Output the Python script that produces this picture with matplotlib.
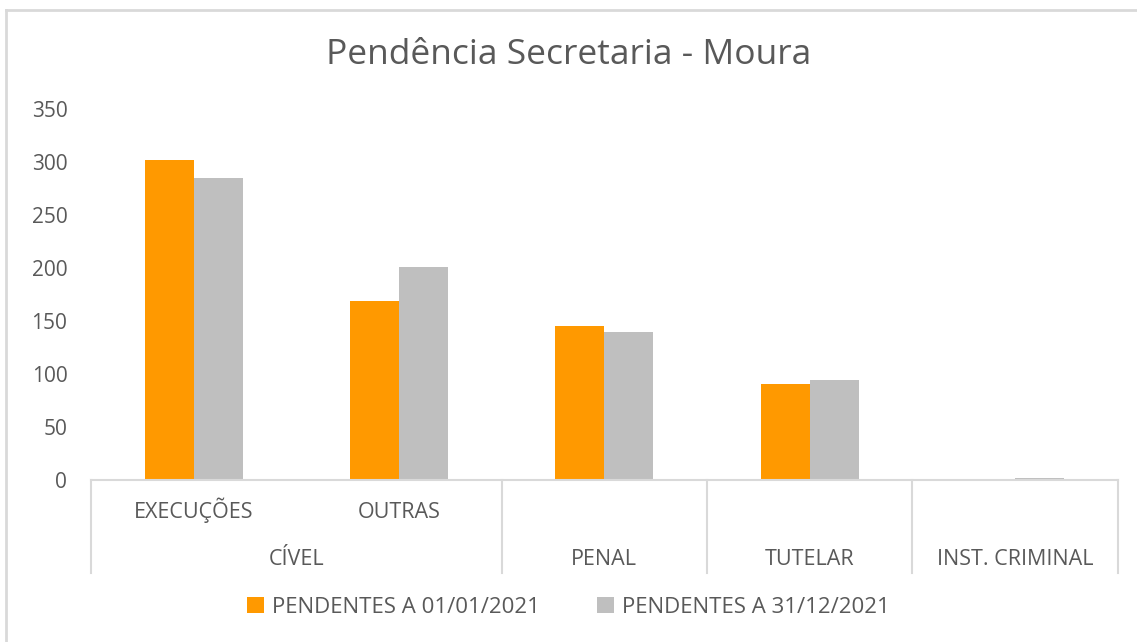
import matplotlib.pyplot as plt
from matplotlib.lines import Line2D
import numpy as np

# data
subcats = ['EXECUÇÕES', 'OUTRAS', '', '', '']
groups = ['CÍVEL', 'PENAL', 'TUTELAR', 'INST. CRIMINAL']
group_pos = [0.5, 2, 3, 4]
pend_inicio = [302, 169, 145, 91, 0]
pend_fim = [285, 201, 140, 94, 2]
series_names = ['PENDENTES A 01/01/2021', 'PENDENTES A 31/12/2021']

orange = '#ff9900'
grey = '#bfbfbf'
txt = '#595959'
line_col = '#d9d9d9'
font = 'Open Sans'

fig = plt.figure(figsize=(11.37, 6.42), dpi=100)
ax = fig.add_axes([0.080, 0.2523, 0.903, 0.5779])

x = np.arange(len(pend_inicio))
w = 0.2386
ax.bar(x - w / 2, pend_inicio, w, color=orange, label=series_names[0])
ax.bar(x + w / 2, pend_fim, w, color=grey, label=series_names[1])

ax.set_xlim(-0.5, 4.5)
ax.set_ylim(0, 350)
ax.set_yticks(range(0, 351, 50))
ax.tick_params(axis='y', length=0, pad=17, labelsize=15, labelcolor=txt)
for lb in ax.get_yticklabels():
    lb.set_fontfamily(font)
ax.set_xticks([])
for s in ['top', 'right', 'left']:
    ax.spines[s].set_visible(False)
ax.spines['bottom'].set_color(line_col)
ax.spines['bottom'].set_linewidth(1.5)

trans = ax.get_xaxis_transform()
# separators of the two-level axis
for sx in [-0.5, 1.5, 2.5, 3.5, 4.5]:
    ax.add_line(Line2D([sx, sx], [0, -0.2507], transform=trans, color=line_col,
                       lw=1.5, clip_on=False))
for i, s in enumerate(subcats):
    if s:
        ax.text(i, -0.1024, s, transform=trans, ha='center', va='baseline',
                fontsize=15.5, color=txt, family=font)
for g, p in zip(groups, group_pos):
    ax.text(p, -0.229, g, transform=trans, ha='center', va='baseline',
            fontsize=15.5, color=txt, family=font)

fig.text(0.5, 0.914, 'Pendência Secretaria - Moura', ha='center', va='center',
         fontsize=25.5, color=txt, family=font)

leg = fig.legend(loc='center', bbox_to_anchor=(0.5, 0.054), ncol=2, frameon=False,
                 handlelength=0.75, handleheight=0.75, handletextpad=0.35,
                 columnspacing=2.6, prop={'family': font, 'size': 16})
for t in leg.get_texts():
    t.set_color(txt)

# chart-area border (top and left edges visible)
fig.add_artist(Line2D([0.0053, 0.999], [0.9844, 0.9844], transform=fig.transFigure,
                      color=line_col, lw=2))
fig.add_artist(Line2D([0.0053, 0.0053], [0.0, 0.9844], transform=fig.transFigure,
                      color=line_col, lw=2))

fig.savefig('out.png', dpi=100)
